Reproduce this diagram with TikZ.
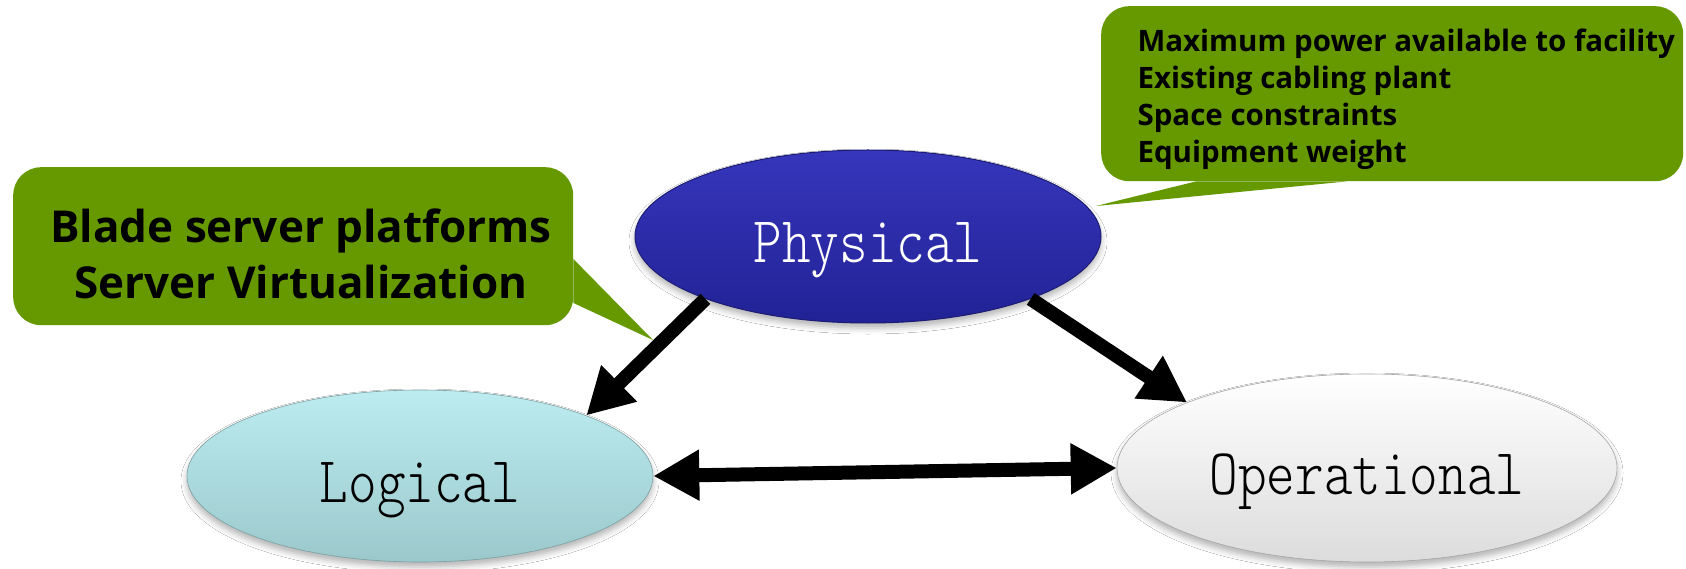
\documentclass[tikz,border=0pt]{standalone}
\usepackage{fontspec}
\usepackage{graphicx}
\newfontfamily\calloutfont{Open Sans}
\usetikzlibrary{arrows.meta,shapes.geometric,shadows.blur}

\definecolor{leaf}{RGB}{102,153,0}
\definecolor{physTop}{RGB}{54,54,188}
\definecolor{physMid}{RGB}{40,40,168}
\definecolor{physBot}{RGB}{34,34,150}
\definecolor{physRim}{RGB}{28,28,115}
\definecolor{logTop}{RGB}{188,236,240}
\definecolor{logBot}{RGB}{155,200,203}
\definecolor{opTop}{RGB}{255,255,255}
\definecolor{opBot}{RGB}{220,220,220}

% tall, thin typewriter lettering for the three views
\newcommand\viewname[1]{\scalebox{1}[1.2]{#1}}

\tikzset{
  bubble/.style={ellipse, inner sep=0pt,
    text height=60pt, text depth=7pt,
    blur shadow={shadow xshift=0pt, shadow yshift=-5pt,
                 shadow opacity=30, shadow blur radius=6pt},
    font=\ttfamily\fontseries{l}\fontsize{54.5}{60}\selectfont},
  bigarrow/.style={line width=14pt,
    -{Triangle[length=46pt,width=48pt]}},
  bothway/.style={line width=14pt,
    {Triangle[length=46pt,width=48pt]}-{Triangle[length=46pt,width=48pt]}},
  callout/.style={fill=leaf, rounded corners=28pt, inner sep=0pt,
    anchor=north west},
}

\begin{document}
\begin{tikzpicture}[x=1pt,y=-1pt]
  \useasboundingbox[fill=white] (0,0) rectangle (1686,569);

  % speech bubbles
  \node[callout, minimum width=560pt, minimum height=158pt] (leftbox) at (13,167) {};
  \coordinate (lefttip) at (653,340);
  \fill[leaf] ([yshift=-92pt]leftbox.north east) -- (lefttip)
              -- ([yshift=-136pt]leftbox.north east) -- cycle;
  \node[font=\calloutfont\bfseries\fontsize{44}{56}\selectfont, align=center]
    (lefttext) at (301,254) {Blade server platforms\\Server Virtualization};

  \node[callout, minimum width=582pt, minimum height=175pt] (rightbox) at (1101,6) {};
  \coordinate (righttip) at (1096,206);
  \fill[leaf] ([xshift=95pt]rightbox.south west) -- (righttip)
              -- ([xshift=246pt]rightbox.south west) -- cycle;
  \node[font=\calloutfont\bfseries\fontsize{29.5}{37}\selectfont, align=left,
        anchor=north west] (righttext) at (1134,25)
    {Maximum power available to facility\\Existing cabling plant\\
     Space constraints\\Equipment weight};

  % the three views
  \node[bubble, minimum width=466pt, minimum height=173pt,
        draw=physRim, line width=1pt,
        top color=physTop, middle color=physMid, bottom color=physBot,
        text=white] (phys) at (868,236.5) {\viewname{Physical}};
  \node[bubble, minimum width=466pt, minimum height=172pt,
        draw=logBot!80!black, line width=0.6pt,
        top color=logTop, bottom color=logBot] (log) at (420,476) {\viewname{Logical}};
  \node[bubble, minimum width=500pt, minimum height=188pt,
        draw=black!35, line width=0.6pt,
        top color=opTop, bottom color=opBot] (op) at (1367,468) {\viewname{Operational}};

  % relations
  \draw[bigarrow] (phys.201) -- (log.20);
  \draw[bigarrow] (phys.339.5) -- (op.160);
  \draw[bothway] (log.0) -- (op.180);
\end{tikzpicture}
\end{document}
